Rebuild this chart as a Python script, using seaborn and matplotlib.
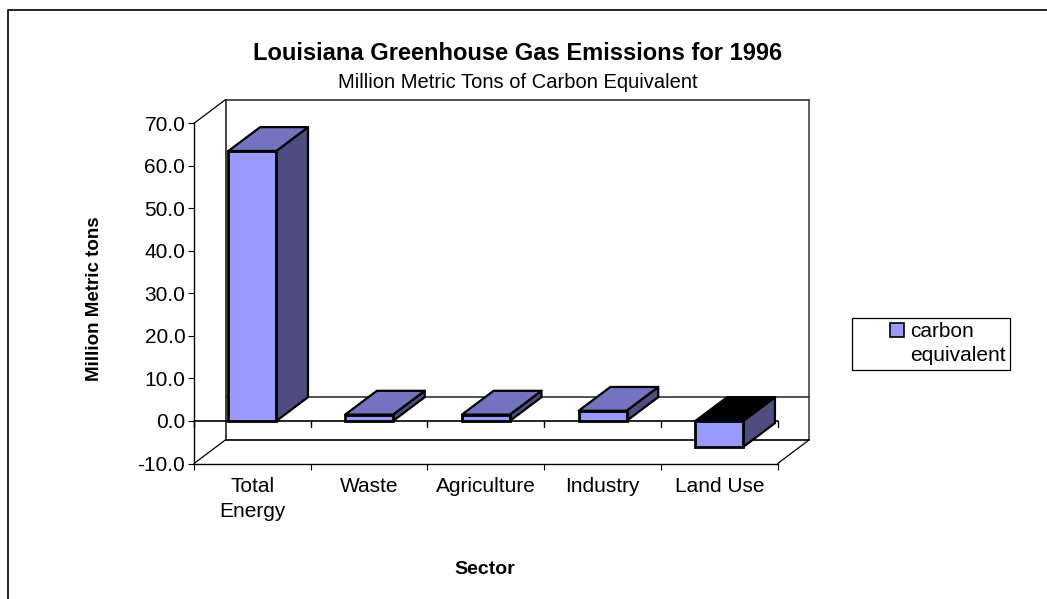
import matplotlib
matplotlib.use("Agg")
import matplotlib.pyplot as plt
import seaborn as sns
from matplotlib.lines import Line2D

sectors = ["Total\nEnergy", "Waste", "Agriculture", "Industry", "Land Use"]
carbon_equivalent = [63.5, 1.5, 1.5, 2.4, -6.1]
y_ticks = [-10, 0, 10, 20, 30, 40, 50, 60, 70]

W, H = 1047, 599
FRONT = "#9999FF"
TOP = "#7373BF"
SIDE = "#4D4D80"

sns.set_theme(style="white")
plt.rcParams["font.family"] = ["Liberation Sans", "DejaVu Sans"]

fig = plt.figure(figsize=(W / 100, H / 100), dpi=100)

# axes = front plane of the fake 3d box
left, right, top, bottom = 194, 777.7, 123.3, 463.5
ax = fig.add_axes([left / W, 1 - bottom / H, (right - left) / W, (bottom - top) / H])

sns.barplot(x=sectors, y=carbon_equivalent, color=FRONT, saturation=1, width=0.41,
            edgecolor="black", linewidth=2, zorder=4, label="carbon\nequivalent", legend=False, ax=ax)
ax.set_xlim(-0.5, 4.5)
ax.set_ylim(-10, 70)

# depth of the box in data units
dx = 31.7 / ((right - left) / 5)
dy = 23.8 / ((bottom - top) / 80)

# back wall and floor
ax.plot([-0.5 + dx] * 2, [-10 + dy, 70 + dy], color="#222222", lw=1.2, clip_on=False, zorder=1)
ax.plot([4.5 + dx] * 2, [-10 + dy, 70 + dy], color="#444444", lw=1.2, clip_on=False, zorder=1)
ax.plot([-0.5 + dx, 4.5 + dx], [70 + dy] * 2, color="#333333", lw=1.2, clip_on=False, zorder=1)
ax.plot([-0.5 + dx, 4.5 + dx], [-10 + dy] * 2, color="black", lw=1.2, clip_on=False, zorder=1)
ax.plot([-0.5 + dx, 4.5 + dx], [dy, dy], color="#333333", lw=1.2, clip_on=False, zorder=1)
for x0, y0 in [(-0.5, 70), (-0.5, -10), (4.5, -10)]:
    ax.plot([x0, x0 + dx], [y0, y0 + dy], color="black", lw=0.9, clip_on=False, zorder=1)

# zero line with its own ticks
ax.plot([-0.5, 4.5], [0, 0], color="black", lw=1.2, clip_on=False, zorder=2)
for i in range(6):
    ax.plot([i - 0.5, i - 0.5], [0, -1.3], color="black", lw=1, clip_on=False, zorder=2)

# side and top faces of each bar
for bar, val in zip(ax.patches, carbon_equivalent):
    x0 = bar.get_x()
    x1 = x0 + bar.get_width()
    lo, hi = min(0, val), max(0, val)
    ax.fill([x1, x1 + dx, x1 + dx, x1], [lo, lo + dy, hi + dy, hi], facecolor=SIDE,
            edgecolor="black", lw=1.6, zorder=3, clip_on=False, joinstyle="round")
    ax.fill([x0, x0 + dx, x1 + dx, x1], [hi, hi + dy, hi + dy, hi],
            facecolor="black" if val < 0 else TOP,
            edgecolor="black", lw=1.6, zorder=3, clip_on=False, joinstyle="round")

# axis styling
sns.despine(ax=ax)
for side in ["left", "bottom"]:
    ax.spines[side].set_color("black")
    ax.spines[side].set_linewidth(1.0)
ax.set_yticks(y_ticks, labels=[f"{v:.1f}" for v in y_ticks])
ax.tick_params(axis="y", which="major", left=True, length=4.3, width=0.8, color="black",
               labelsize=15, labelcolor="black", pad=2)
ax.set_xticks([i - 0.5 for i in range(6)], labels=[""] * 6)
ax.tick_params(axis="x", which="major", bottom=True, length=4.3, width=0.8, color="black")
ax.set_xticks(range(5), labels=sectors, minor=True)
ax.tick_params(axis="x", which="minor", bottom=True, length=0, labelsize=15, labelcolor="black", pad=10)
for lab in ax.get_xticklabels(minor=True):
    lab.set_linespacing(1.35)

ax.set_xlabel("Sector", fontsize=14, fontweight="bold", color="black")
ax.xaxis.set_label_coords(485 / W, 1 - 561 / H, transform=fig.transFigure)
ax.set_ylabel("Million Metric tons", fontsize=13.5, fontweight="bold", color="black")
ax.yaxis.set_label_coords(103 / W, 1 - 299 / H, transform=fig.transFigure)

fig.text(518 / W, 1 - 53 / H, "Louisiana Greenhouse Gas Emissions for 1996", fontsize=17,
         fontweight="bold", color="black", ha="center", va="center")
fig.text(518 / W, 1 - 82 / H, "Million Metric Tons of Carbon Equivalent", fontsize=14.5,
         color="black", ha="center", va="center")

# legend, box spans 852-1037 x 318-382
leg = ax.legend(loc="upper left", bbox_to_anchor=(852 / W, 1 - 318 / H), bbox_transform=fig.transFigure,
                fontsize=15, frameon=True, fancybox=False, edgecolor="black", framealpha=1,
                borderpad=0.2, borderaxespad=0, handlelength=2.4, handletextpad=0.2, labelspacing=0,
                labelcolor="black")
leg.get_frame().set_linewidth(0.9)
for t in leg.get_texts():
    t.set_linespacing(1.35)
handle = leg.get_patches()[0]
handle.set_x(24)
handle.set_width(10.5)
handle.set_height(10.5)
handle.set_y(10)
handle.set_edgecolor("black")
handle.set_linewidth(1.2)

# outer chart border runs off the image
fig.add_artist(Line2D([7.5 / W, 7.5 / W, 1], [0, 1 - 10 / H, 1 - 10 / H], color="#222222", lw=1.4))

fig.savefig("out.png", dpi=100)
